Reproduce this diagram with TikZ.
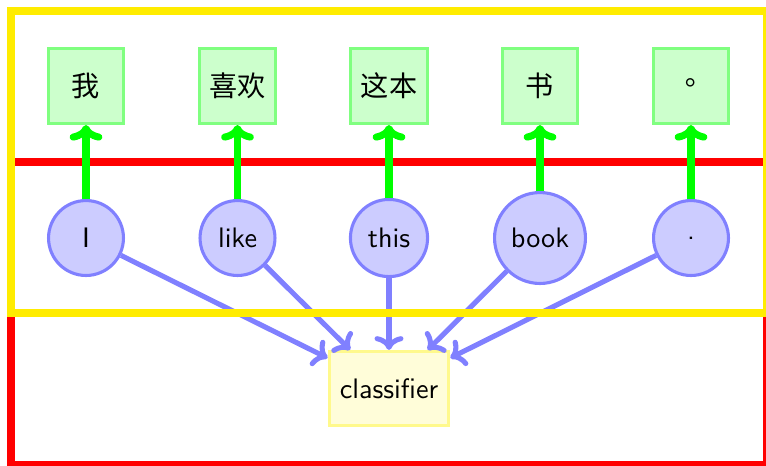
\documentclass[tikz,border=0pt]{standalone}
\usepackage{fontspec}
\newfontfamily\cjk{Noto Sans CJK SC}
\newfontfamily\cjktc{Noto Sans CJK TC}
\usetikzlibrary{arrows.meta}
\definecolor{frameyellow}{RGB}{255,236,0}
\begin{document}
\begin{tikzpicture}[x=0.355pt, y=-0.355pt, font=\sffamily,
  target/.style={rectangle, draw=green!50, fill=green!20, line width=1.1pt,
    minimum size=26.6pt, inner xsep=3.6pt, font=\cjk},
  source/.style={circle, draw=blue!50, fill=blue!20, line width=1.1pt,
    minimum size=26.6pt, inner sep=4pt},
  clf/.style={rectangle, draw=yellow!45, fill=yellow!15, line width=1.1pt,
    minimum height=26.3pt, inner xsep=3.8pt},
  align/.style={-{To[round, scale=0.78]}, draw=green, line width=2.5pt},
  feed/.style={-{To[round, scale=0.88]}, draw=blue!50, line width=1.8pt},
  frame/.style={line width=2.84pt}]
\useasboundingbox (0,0) rectangle (766,465);

% lower frame: encoder plus classifier
\draw[frame, red] (11,162) rectangle (766.5,464.5);

% target words
\node[target] (w1) at (86,86)    {我};
\node[target] (w2) at (237.5,86) {喜欢};
\node[target] (w3) at (389,86)   {这本};
\node[target] (w4) at (540,86)   {书};
\node[target, font=\cjktc] (w5) at (691,86) {。};

% source words
\node[source] (s1) at (86,238)    {I};
\node[source] (s2) at (237.5,238) {like};
\node[source] (s3) at (389,238)   {this};
\node[source] (s4) at (540,238)   {book};
\node[source] (s5) at (691,238)   {.};

% classifier
\node[clf] (c) at (389,388.5) {classifier};

% alignments
\foreach \i in {1,...,5} {
  \draw[align] (s\i) -- (w\i);
  \draw[feed] (s\i) -- (c);
}

% upper frame: translation model
\draw[frame, frameyellow] (11,11) rectangle (766.5,313);
\end{tikzpicture}
\end{document}
